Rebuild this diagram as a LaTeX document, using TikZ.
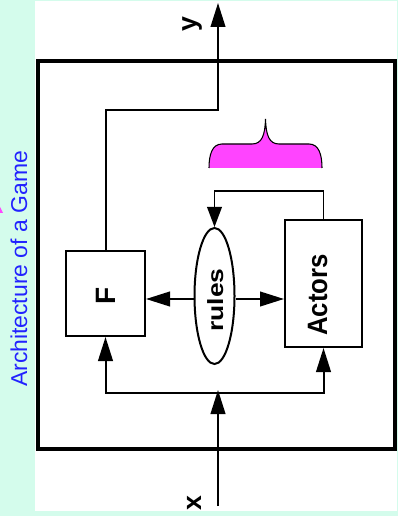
\documentclass[tikz,border=0pt]{standalone}
\usepackage{fontspec}
\setmainfont{Liberation Sans}
\usetikzlibrary{arrows.meta,shapes.geometric}
\definecolor{mint}{HTML}{D4FCEC}
\definecolor{titleblue}{HTML}{2222FF}
\definecolor{bracemag}{HTML}{FF44FF}
\begin{document}
\begin{tikzpicture}[x=0.75pt,y=-0.75pt,
  box/.style={draw,line width=1.5pt,inner sep=0pt},
  arr/.style={line width=1.5pt,-{Triangle[length=18pt,width=11pt]}},
  thinarr/.style={line width=1.2pt,-{Triangle[length=15pt,width=11pt]}},
  lab/.style={rotate=90,anchor=base,inner sep=0pt,font=\bfseries\fontsize{21}{21}\selectfont}]
\useasboundingbox (0,0) rectangle (398,516);
\fill[mint] (0,0) rectangle (398,516);
\fill[white] (35,1) rectangle (397,511);
\fill[bracemag] (0,207) -- (3,213) -- (0,213) -- cycle;
% title
\node[rotate=90,anchor=base,inner sep=0pt,text=titleblue,font=\fontsize{17.2}{17.2}\selectfont] (title) at (27,269) {Architecture of a Game};
% outer frame
\draw[line width=3pt] (37.5,61) rectangle (395,449);
% nodes
\node[box,minimum width=59.25pt,minimum height=63.75pt] (F) at (105.5,293.5) {};
\node[box,minimum width=57.75pt,minimum height=95.25pt] (A) at (323.5,283.5) {};
\node[draw,line width=1.5pt,ellipse,inner sep=0pt,minimum width=30pt,minimum height=102pt] (R) at (214.5,296) {};
\node[lab] (Flab) at (115,296) {F};
\node[lab] (Alab) at (327,295) {\scalebox{0.92}[1]{Actors}};
\node[rotate=90,anchor=base,inner sep=0pt,font=\bfseries\fontsize{16.5}{16.5}\selectfont] (Rlab) at (223,300) {\scalebox{1.2}[1]{rules}};
% brace
\fill[bracemag] (209,168) .. controls (209,155) and (212,144) .. (222,144) -- (252,144) .. controls (262,144) and (265,135) .. (265.5,119) .. controls (266,135) and (269,144) .. (279,144) -- (309,144) .. controls (319,144) and (322,155) .. (322,168) -- cycle;
\draw[line width=0.8pt] (209,168) .. controls (209,155) and (212,144) .. (222,144) -- (252,144) .. controls (262,144) and (265,135) .. (265.5,119) .. controls (266,135) and (269,144) .. (279,144) -- (309,144) .. controls (319,144) and (322,155) .. (322,168);
% coordinates
\coordinate (xin) at (218,506);
\coordinate (hl) at (218,393);
\coordinate (bend) at (218,110);
\coordinate (ytip) at (218,3);
% connectors
\draw[arr] (xin) -- (218,390);
\draw[arr] (hl) -| (F.south);
\draw[arr] (hl) -| (A.south);
\draw[arr] (F.north) |- (bend) -- (ytip);
\draw[arr] (R.west |- 0,299) -- (F.east |- 0,299);
\draw[arr] (R.east |- 0,299) -- (A.west |- 0,299);
\draw[thinarr] (A.north) -- ++(0,-28) -| (R.north);
% io labels
\node[rotate=90,inner sep=0pt,font=\bfseries\fontsize{20}{20}\selectfont] (ylab) at (192,24) {y};
\node[rotate=90,inner sep=0pt,font=\bfseries\fontsize{20}{20}\selectfont] (xlab) at (194,503) {x};
\end{tikzpicture}
\end{document}
